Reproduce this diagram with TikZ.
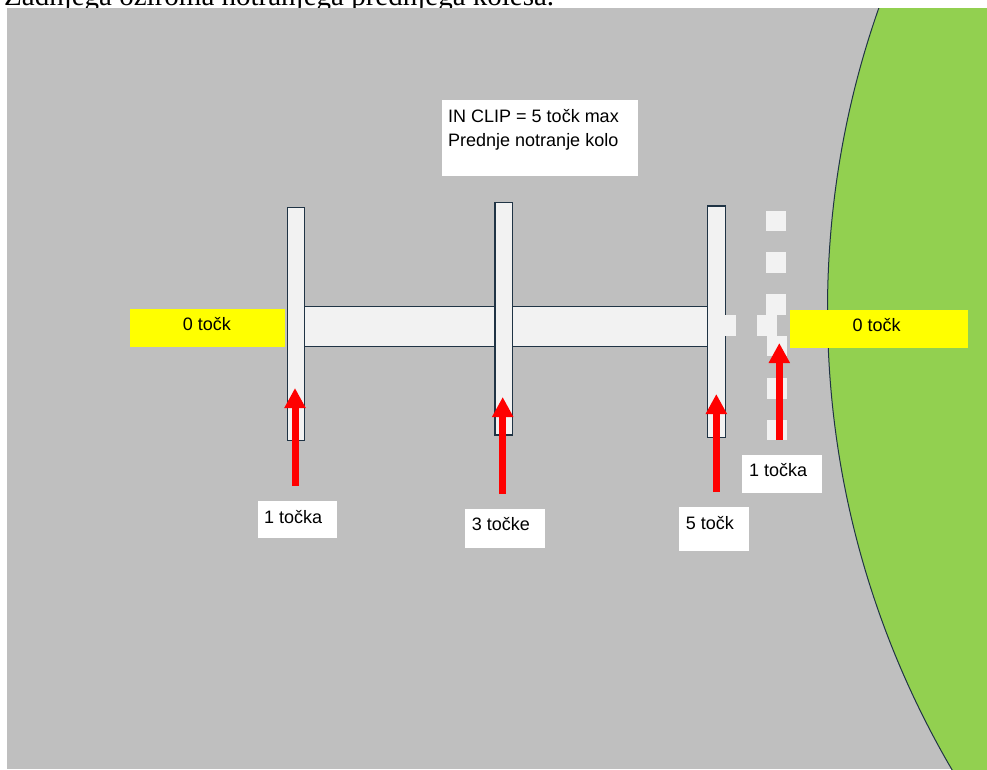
\documentclass[tikz,border=0pt]{standalone}
\usepackage{fontspec}
\setmainfont{Liberation Sans}
\newfontfamily\capfont{Liberation Serif}
\usetikzlibrary{arrows.meta}
\definecolor{bg}{HTML}{BFBFBF}
\definecolor{barfill}{HTML}{F2F2F2}
\definecolor{edge}{HTML}{203445}
\definecolor{grass}{HTML}{92D050}
\definecolor{yel}{HTML}{FFFF00}
\definecolor{arrowred}{HTML}{FF0000}
\begin{document}
\begin{tikzpicture}[x=1pt,y=-1pt,
  bar/.style={draw=edge,fill=barfill,line width=1.1pt,inner sep=0pt,outer sep=0pt},
  dashsq/.style={fill=barfill,draw=none,inner sep=0pt,outer sep=0pt,anchor=north west},
  yelbox/.style={fill=yel,draw=none,inner sep=0pt,anchor=north west},
  whitebox/.style={fill=white,draw=none,inner sep=0pt,anchor=north west},
  lbl/.style={font=\fontsize{18}{22}\selectfont,anchor=base west,inner sep=0pt,text=black},
  redarrow/.style={draw=arrowred,line width=7pt,-{Triangle[width=20pt,length=20pt]}}]
\useasboundingbox (0,0) rectangle (987,769);
% cut-off caption line above the picture
\node[font=\capfont\fontsize{29}{34}\selectfont,anchor=base west,inner sep=0pt] (caption) at (4,5.7) {Zadnjega oziroma notranjega prednjega kolesa.};
% road background
\fill[bg] (7,8) rectangle (987,769);
% green wheel area
\begin{scope}
  \clip (7,8) rectangle (987,769);
  \draw[fill=grass,draw=edge,line width=1pt] (1737.5,310) circle[radius=910pt];
\end{scope}
% horizontal bar
\node[bar,minimum width=420pt,minimum height=40pt] (hbar) at (506,326.7) {};
% vertical bars
\node[bar,minimum width=17.4pt,minimum height=232.7pt] (v1) at (296,323.7) {};
\node[bar,minimum width=17.7pt,minimum height=232.3pt] (v2) at (503.85,318.85) {};
\node[bar,minimum width=17.6pt,minimum height=231.7pt] (v3) at (716.5,321.85) {};
% dashed line squares
\node[dashsq,minimum width=14pt,minimum height=21pt] (s0) at (722,315) {};
\node[dashsq,minimum width=20.3pt,minimum height=20.3pt] (s1) at (765.7,210.7) {};
\node[dashsq,minimum width=20.3pt,minimum height=20.3pt] (s2) at (766,252.3) {};
\node[dashsq,minimum width=20.3pt,minimum height=20.3pt] (s3) at (766,294.3) {};
\node[dashsq,minimum width=20pt,minimum height=20.7pt] (s4) at (756.7,315) {};
\node[dashsq,minimum width=20.3pt,minimum height=20.3pt] (s5) at (766.7,335.7) {};
\node[dashsq,minimum width=20.3pt,minimum height=21pt] (s6) at (766.7,378) {};
\node[dashsq,minimum width=20.3pt,minimum height=20pt] (s7) at (766.7,420) {};
% yellow boxes
\node[yelbox,minimum width=154.3pt,minimum height=37.7pt] (yl) at (130,309) {};
\node[yelbox,minimum width=178pt,minimum height=37.3pt] (yr) at (790,310) {};
\node[lbl] (tyl) at (182.7,330.7) {0 točk};
\node[lbl] (tyr) at (852.5,331) {0 točk};
% title box
\node[whitebox,minimum width=195.6pt,minimum height=76.7pt] (title) at (441.7,99.3) {};
\node[lbl] (t1) at (448,122.3) {IN CLIP = 5 točk max};
\node[lbl] (t2) at (448,146.7) {Prednje notranje kolo};
% label boxes
\node[whitebox,minimum width=79.7pt,minimum height=36.3pt] (b1) at (257.3,501) {};
\node[lbl] (l1) at (264,523.3) {1 točka};
\node[whitebox,minimum width=80pt,minimum height=38.3pt] (b2) at (465,509) {};
\node[lbl] (l2) at (471.7,530.7) {3 točke};
\node[whitebox,minimum width=69.3pt,minimum height=44pt] (b3) at (679,506.7) {};
\node[lbl] (l3) at (685.7,529) {5 točk};
\node[whitebox,minimum width=80pt,minimum height=37.7pt] (b4) at (741.7,455) {};
\node[lbl] (l4) at (749,476.7) {1 točka};
% red arrows
\coordinate (a1s) at (295,486);
\coordinate (a1e) at (295,388);
\coordinate (a2s) at (502.7,494);
\coordinate (a2e) at (502.7,397);
\coordinate (a3s) at (716.3,492);
\coordinate (a3e) at (716.3,394);
\coordinate (a4s) at (779.3,440);
\coordinate (a4e) at (779.3,343);
\draw[redarrow] (a1s) -- (a1e);
\draw[redarrow] (a2s) -- (a2e);
\draw[redarrow] (a3s) -- (a3e);
\draw[redarrow] (a4s) -- (a4e);
\end{tikzpicture}
\end{document}
